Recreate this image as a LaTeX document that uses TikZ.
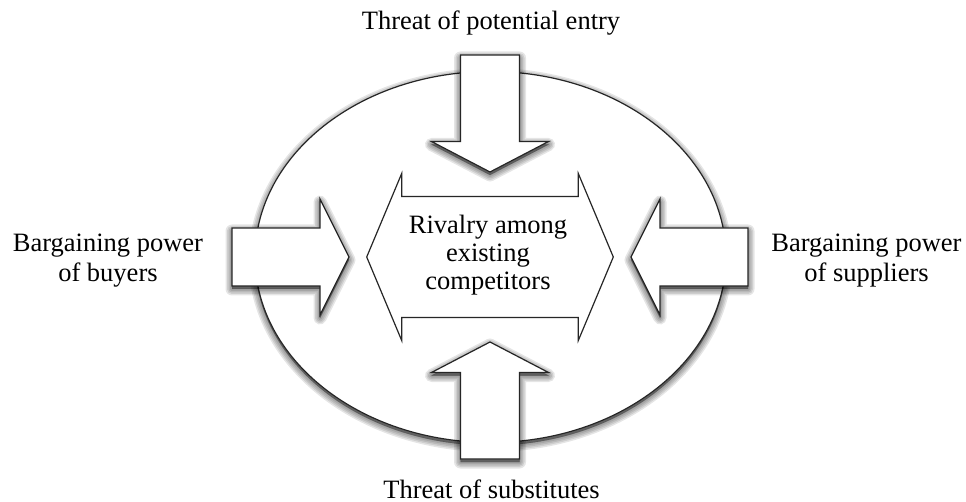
\documentclass[tikz,border=0pt]{standalone}
\usepackage{fontspec}
\setmainfont{Liberation Serif}
\begin{document}
\begin{tikzpicture}[x=1pt,y=-1pt,
  outline/.style={draw=black!85, line width=1.2pt, line join=miter, fill=white},
  shadowlayer/.style={fill=black, draw=black, fill opacity=0.1, draw opacity=0.1,
      line width=#1pt, line join=round, shift={(0,3)}},
  label/.style={font=\fontsize{26.5}{30}\selectfont, inner sep=0pt, anchor=base, align=center}]
  \useasboundingbox (0,0) rectangle (966,502);

  % a white outlined shape lying on a soft drop shadow
  \newcommand\shadowedshape[1]{%
    \foreach \w in {13,10,7,4,1}{\path[shadowlayer=\w] #1;}
    \path[outline] #1;}

  % industry oval
  \shadowedshape{(490.5,257) ellipse [x radius=235.5, y radius=185.5]}

  % inward arrows of the four outer forces
  \shadowedshape{(460.5,55) -- (519.5,55) -- (519.5,141.5) -- (548.5,141.5)
    -- (490,172) -- (431.5,141.5) -- (460.5,141.5) -- cycle}
  \shadowedshape{(460.5,459) -- (519.5,459) -- (519.5,372.5) -- (548.5,372.5)
    -- (490,342) -- (431.5,372.5) -- (460.5,372.5) -- cycle}
  \shadowedshape{(232,228) -- (320,228) -- (320,199) -- (349,257)
    -- (320,315) -- (320,286) -- (232,286) -- cycle}
  \shadowedshape{(748,228) -- (660,228) -- (660,199) -- (631,257)
    -- (660,315) -- (660,286) -- (748,286) -- cycle}

  % central double arrow
  \path[outline] (366.7,257) -- (401.7,173.5) -- (401.7,196.5) -- (578.3,196.5)
    -- (578.3,173.5) -- (613.3,257) -- (578.3,340.5) -- (578.3,317.5)
    -- (401.7,317.5) -- (401.7,340.5) -- cycle;

  % labels (base anchor sits on the last line)
  \node[label] (entry) at (491,29.3) {Threat of potential entry};
  \node[label] (subst) at (491.5,498) {Threat of substitutes};
  \node[label] (buyers) at (108,281.7) {Bargaining power\\of buyers};
  \node[label] (suppliers) at (866.5,281.7) {Bargaining power\\of suppliers};
  \node[label, font=\fontsize{26.5}{28}\selectfont] (rivalry) at (488,290)
    {Rivalry among\\existing\\competitors};
\end{tikzpicture}
\end{document}
